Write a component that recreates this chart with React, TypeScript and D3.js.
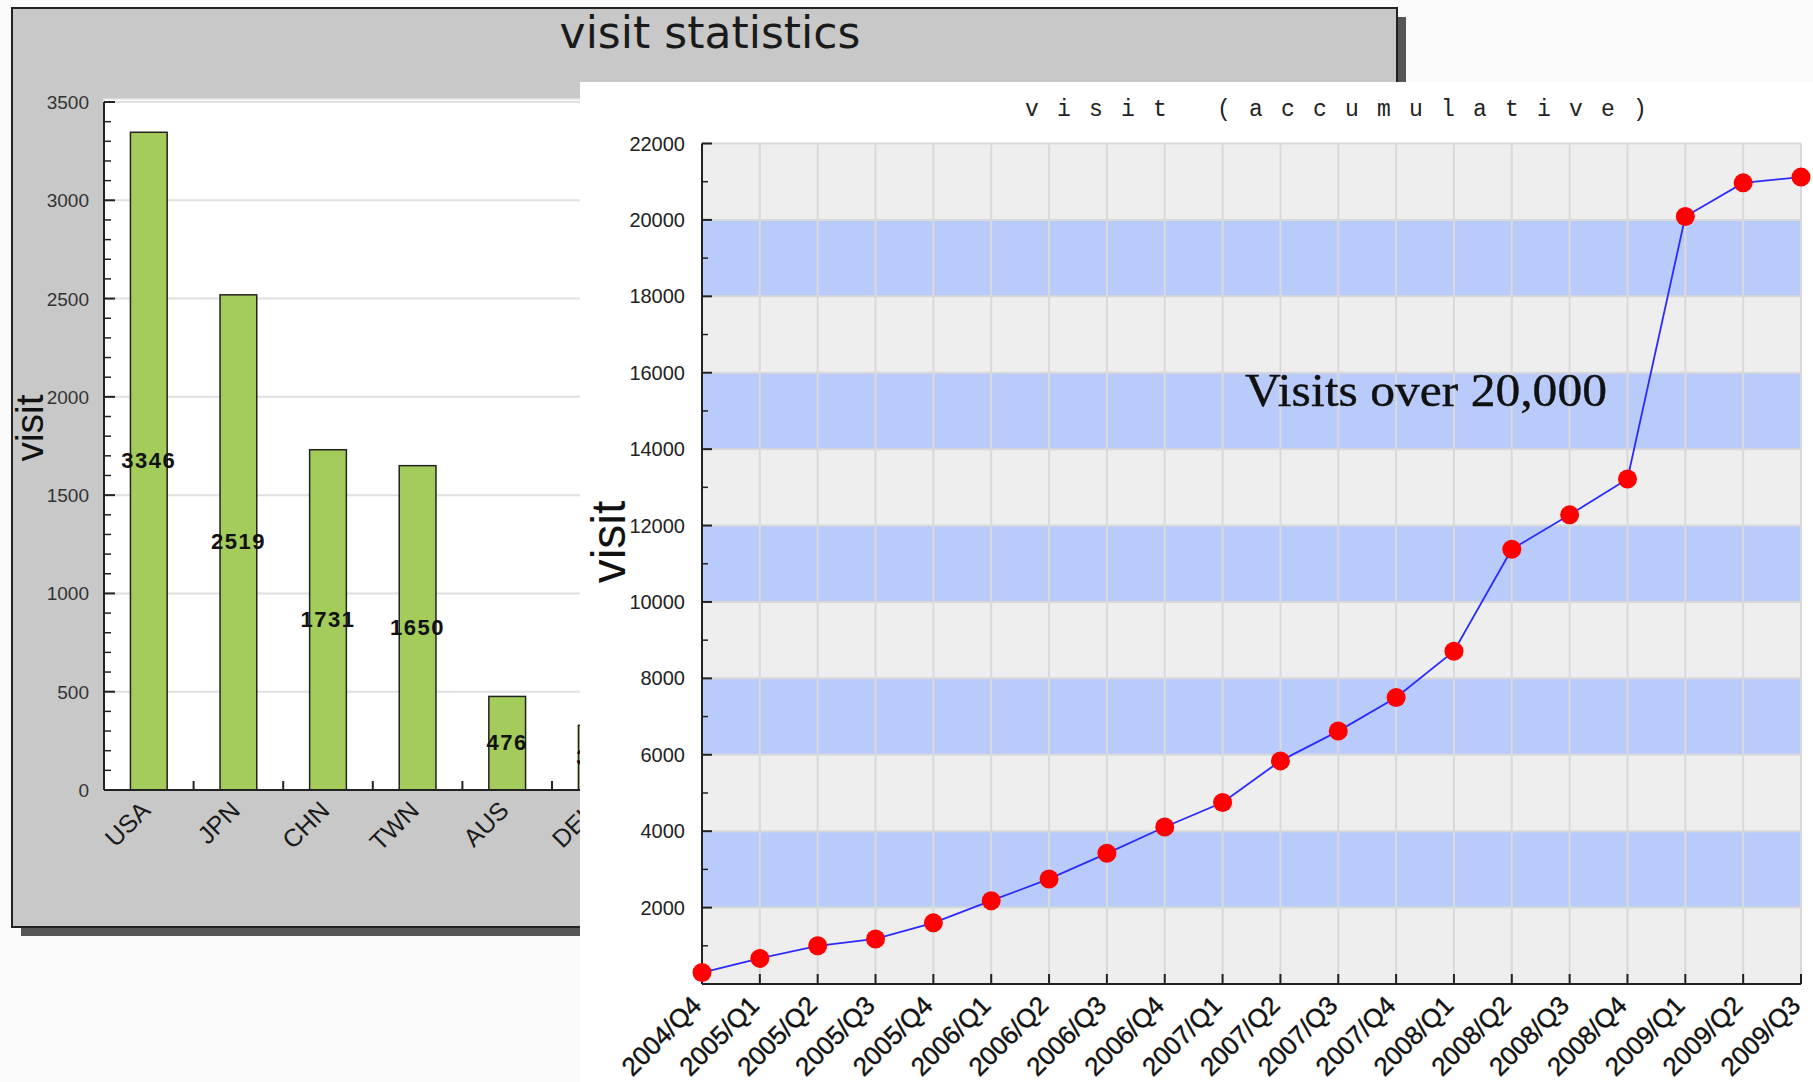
import * as d3 from "d3";
import React from "react";

// left chart: visits by country
const COUNTRIES = ["USA", "JPN", "CHN", "TWN", "AUS", "DEU"];
const COUNTRY_VISITS = [3346, 2519, 1731, 1650, 476, 329];
const COUNTRY_TICKS = [0, 500, 1000, 1500, 2000, 2500, 3000, 3500];

// right chart: accumulated visits by quarter
const QUARTERS = [
  "2004/Q4", "2005/Q1", "2005/Q2", "2005/Q3", "2005/Q4",
  "2006/Q1", "2006/Q2", "2006/Q3", "2006/Q4",
  "2007/Q1", "2007/Q2", "2007/Q3", "2007/Q4",
  "2008/Q1", "2008/Q2", "2008/Q3", "2008/Q4",
  "2009/Q1", "2009/Q2", "2009/Q3",
];
const CUMULATIVE = [
  300, 670, 1000, 1180, 1600, 2180, 2750, 3420, 4110, 4750,
  5840, 6620, 7500, 8710, 11380, 12280, 13220, 20090, 20970, 21120,
];
const CUMULATIVE_TICKS = [2000, 4000, 6000, 8000, 10000, 12000, 14000, 16000, 18000, 20000, 22000];

const SANS = "'Liberation Sans', Arial, sans-serif";
const BAND_BLUE = "#b9cbfb";
const PLOT_GRAY = "#eeeeee";
const GRID = "#d9d9d9";

export default function App() {
  const W = 1813;
  const H = 1082;

  // ── Left chart scales ───────────────────────────────────────────────────────
  const step = 89.6;
  const lx = d3
    .scaleBand<string>()
    .domain(COUNTRIES)
    .range([104, 104 + COUNTRIES.length * step]);
  const ly = d3.scaleLinear().domain([0, 3500]).range([790, 102]);
  const lMinor = d3.range(0, 3501, 100).filter((v) => v % 500 !== 0);
  const barW = lx.bandwidth() * 0.41;

  // ── Right chart scales ──────────────────────────────────────────────────────
  const rx = d3.scalePoint<string>().domain(QUARTERS).range([702, 1801]);
  const ry = d3.scaleLinear().domain([0, 22000]).range([984, 143.5]);
  const rMinor = d3.range(1000, 22000, 2000);
  const bands = CUMULATIVE_TICKS.filter((_, i) => i % 2 === 0 && i < CUMULATIVE_TICKS.length - 1);

  const line = d3
    .line<number>()
    .x((_, i) => rx(QUARTERS[i]) ?? 0)
    .y((d) => ry(d));

  return (
    <div style={{ position: "absolute", left: 0, top: 0 }}>
      <svg width={W} height={H} viewBox={`0 0 ${W} ${H}`} style={{ display: "block" }}>
        <rect x={0} y={0} width={W} height={H} fill="#fafafa" />

        {/* ── Left panel ─────────────────────────────────────────────── */}
        <rect x={21} y={17} width={1385} height={919} fill="#555" />
        <rect x={12} y={8} width={1385} height={919} fill="#c8c8c8" stroke="#222" strokeWidth={2} />
        <text x={710} y={48} textAnchor="middle" fontFamily="'DejaVu Sans', sans-serif" fontSize={44} fill="#1a1a1a">
          visit statistics
        </text>

        <rect x={104} y={99} width={1280} height={691} fill="#fff" stroke="#e4e4e4" strokeWidth={1.5} />
        {COUNTRY_TICKS.map((t) => (
          <line key={`lg${t}`} x1={104} x2={1384} y1={ly(t)} y2={ly(t)} stroke="#e0e0e0" strokeWidth={2} />
        ))}

        {COUNTRIES.map((c, i) => {
          const x = (lx(c) ?? 0) + (lx.bandwidth() - barW) / 2;
          const v = COUNTRY_VISITS[i];
          return (
            <g key={c}>
              <rect x={x} y={ly(v)} width={barW} height={ly(0) - ly(v)} fill="#a3cc5a" stroke="#222" strokeWidth={1.5} />
              <text
                x={x + barW / 2}
                y={(ly(v) + ly(0)) / 2 + 7}
                textAnchor="middle"
                fontFamily={SANS}
                fontWeight="bold"
                fontSize={22}
                letterSpacing={1.5}
                fill="#111"
              >
                {v}
              </text>
            </g>
          );
        })}

        {/* left axes */}
        <line x1={104} x2={104} y1={ly(3500)} y2={ly(0)} stroke="#222" strokeWidth={2} />
        <line x1={104} x2={1384} y1={ly(0)} y2={ly(0)} stroke="#222" strokeWidth={2} />
        {COUNTRY_TICKS.map((t) => (
          <g key={`lt${t}`}>
            <line x1={104} x2={115} y1={ly(t)} y2={ly(t)} stroke="#222" strokeWidth={2} />
            <text x={89} y={ly(t) + 7} textAnchor="end" fontFamily={SANS} fontSize={19} fill="#333">
              {t}
            </text>
          </g>
        ))}
        {lMinor.map((t) => (
          <line key={`lm${t}`} x1={104} x2={111} y1={ly(t)} y2={ly(t)} stroke="#222" strokeWidth={1.5} />
        ))}
        {COUNTRIES.map((c) => {
          const bx = (lx(c) ?? 0) + lx.bandwidth();
          const cx = (lx(c) ?? 0) + lx.bandwidth() / 2;
          return (
            <g key={`lx${c}`}>
              <line x1={bx} x2={bx} y1={ly(0)} y2={ly(0) - 9} stroke="#222" strokeWidth={2} />
              <text
                transform={`translate(${cx + 3},${ly(0) + 22}) rotate(-45)`}
                textAnchor="end"
                fontFamily={SANS}
                fontSize={25}
                fill="#1a1a1a"
              >
                {c}
              </text>
            </g>
          );
        })}
        <text transform="translate(43,428) rotate(-90)" textAnchor="middle" fontFamily={SANS} fontSize={39} fill="#111">
          visit
        </text>

        {/* ── Right panel ────────────────────────────────────────────── */}
        <rect x={580} y={82} width={W - 580} height={H - 82} fill="#fff" />
        <text
          x={1025}
          y={116}
          fontFamily="'Liberation Mono', 'DejaVu Sans Mono', monospace"
          fontSize={23}
          letterSpacing={18.2}
          fill="#222"
        >
          visit (accumulative)
        </text>

        <rect x={702} y={ry(22000)} width={1801 - 702} height={ry(0) - ry(22000)} fill={PLOT_GRAY} />
        {bands.map((b) => (
          <rect key={`b${b}`} x={702} y={ry(b + 2000)} width={1801 - 702} height={ry(b) - ry(b + 2000)} fill={BAND_BLUE} />
        ))}
        {QUARTERS.map((q) => (
          <line key={`vg${q}`} x1={rx(q)} x2={rx(q)} y1={ry(22000)} y2={ry(0)} stroke={GRID} strokeWidth={2} />
        ))}
        {CUMULATIVE_TICKS.map((t) => (
          <line key={`hg${t}`} x1={702} x2={1801} y1={ry(t)} y2={ry(t)} stroke={GRID} strokeWidth={2} />
        ))}

        {/* right axes */}
        <line x1={702} x2={702} y1={ry(22000)} y2={ry(0)} stroke="#222" strokeWidth={2} />
        <line x1={702} x2={1801} y1={ry(0)} y2={ry(0)} stroke="#222" strokeWidth={2} />
        {CUMULATIVE_TICKS.map((t) => (
          <g key={`rt${t}`}>
            <line x1={702} x2={712} y1={ry(t)} y2={ry(t)} stroke="#222" strokeWidth={2} />
            <text x={685} y={ry(t) + 7} textAnchor="end" fontFamily={SANS} fontSize={20} fill="#222">
              {t}
            </text>
          </g>
        ))}
        {rMinor.map((t) => (
          <line key={`rm${t}`} x1={702} x2={708} y1={ry(t)} y2={ry(t)} stroke="#222" strokeWidth={1.5} />
        ))}
        {QUARTERS.map((q) => (
          <g key={`rx${q}`}>
            <line x1={rx(q)} x2={rx(q)} y1={ry(0)} y2={ry(0) - 10} stroke="#222" strokeWidth={2} />
            <text
              transform={`translate(${(rx(q) ?? 0) + 1},${ry(0) + 23}) rotate(-45)`}
              textAnchor="end"
              fontFamily={SANS}
              fontSize={26}
              fill="#111"
              stroke="#111"
              strokeWidth={0.4}
            >
              {q}
            </text>
          </g>
        ))}
        <text transform="translate(625,542) rotate(-90)" textAnchor="middle" fontFamily={SANS} fontSize={48} fill="#111">
          visit
        </text>

        <path d={line(CUMULATIVE) ?? ""} fill="none" stroke="#2b2bff" strokeWidth={1.8} />
        {CUMULATIVE.map((v, i) => (
          <circle key={`p${i}`} cx={rx(QUARTERS[i])} cy={ry(v)} r={9.5} fill="#ff0000" />
        ))}

        <text x={1245} y={406} fontFamily="'Liberation Serif', 'DejaVu Serif', serif" fontSize={47} textLength={362} lengthAdjust="spacingAndGlyphs" fill="#111" stroke="#111" strokeWidth={0.4}>
          Visits over 20,000
        </text>
      </svg>
    </div>
  );
}
